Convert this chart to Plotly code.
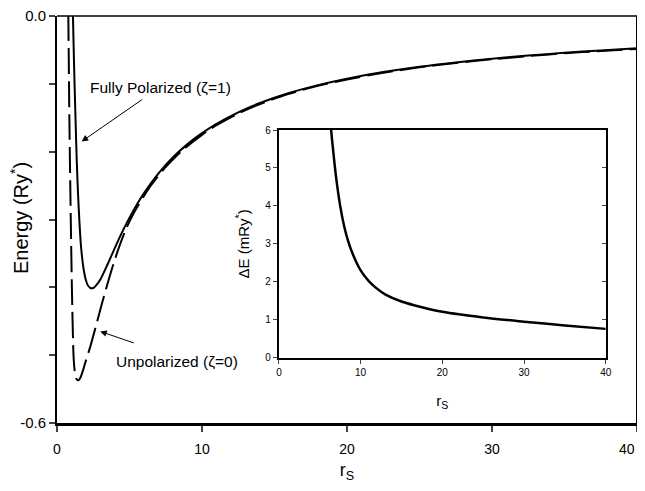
import plotly.graph_objects as go

# ---- data ----
rs_pol = [1.06, 1.10, 1.18, 1.27, 1.36, 1.45, 1.55, 1.65, 1.80, 1.95, 2.10, 2.30, 2.50, 2.70,
          3.0, 3.5, 4.0, 4.5, 5.0, 5.5, 6.0, 7.0, 8.0, 9.0, 10.0, 11.0, 12.5, 14.0, 16.0, 18.0,
          20.0, 22.5, 25.0, 27.5, 30.0, 32.5, 35.0, 37.5, 40.0]
E_pol = [0.04, 0.0, -0.075, -0.146, -0.212, -0.262, -0.305, -0.338, -0.368, -0.386, -0.396, -0.401,
         -0.401, -0.397, -0.388, -0.3656, -0.3414, -0.3183, -0.2972, -0.2781, -0.2611, -0.2319,
         -0.2083, -0.1889, -0.1727, -0.159, -0.142, -0.1283, -0.1136, -0.1019, -0.0924, -0.0827,
         -0.0748, -0.0684, -0.0629, -0.0583, -0.0542, -0.0508, -0.0477]

rs_unpol = [0.74, 0.78, 0.85, 0.92, 1.03, 1.15, 1.25, 1.37, 1.49, 1.62, 1.80, 1.95, 2.30, 2.75,
            3.10, 3.44, 3.90, 4.36, 4.80, 5.28, 6.40, 7.44, 8.70, 10.0, 11.0, 12.5, 14.0, 16.0,
            18.0, 20.0, 22.5, 25.0, 27.5, 30.0, 32.5, 35.0, 37.5, 40.0]
E_unpol = [0.05, 0.0, -0.146, -0.257, -0.404, -0.505, -0.528, -0.536, -0.537, -0.533, -0.522,
           -0.511, -0.487, -0.452, -0.424, -0.398, -0.365, -0.336, -0.312, -0.291, -0.252, -0.224,
           -0.197, -0.1752, -0.161, -0.1437, -0.1298, -0.1148, -0.1030, -0.0935, -0.0837, -0.0757,
           -0.0693, -0.0638, -0.0591, -0.0550, -0.0516, -0.0485]

rs_inset = [6.3, 6.5, 7.0, 7.5, 8.0, 8.5, 9.0, 10.0, 11.0, 12.0, 13.0, 15.0, 17.5, 20.0, 25.0,
            30.0, 35.0, 40.0]
dE_inset = [6.2, 5.75, 4.75, 4.0, 3.45, 3.05, 2.75, 2.3, 2.02, 1.82, 1.67, 1.48, 1.33, 1.21,
            1.06, 0.95, 0.85, 0.76]

main_yticks = [-0.6, -0.5, -0.4, -0.3, -0.2, -0.1, 0.0]
main_ytext = ["-0.6", "", "", "", "", "", "0.0"]
main_xticks = [0, 10, 20, 30, 40]
main_xtext = ["0", "10", "20", "30", ""]   # last label drawn as annotation so it is not clipped
last_xlabel = "40"
inset_xticks = [0, 10, 20, 30, 40]
inset_yticks = [0, 1, 2, 3, 4, 5, 6]

FONT = "Arial, Liberation Sans, sans-serif"

fig = go.Figure()
fig.add_trace(go.Scatter(x=rs_pol, y=E_pol, mode="lines",
                         line=dict(color="black", width=2, shape="spline", smoothing=0.7),
                         xaxis="x", yaxis="y", showlegend=False))
fig.add_trace(go.Scatter(x=rs_unpol, y=E_unpol, mode="lines",
                         line=dict(color="black", width=2, dash="26px,7px", shape="spline", smoothing=0.7),
                         xaxis="x", yaxis="y", showlegend=False))
fig.add_trace(go.Scatter(x=rs_inset, y=dE_inset, mode="lines",
                         line=dict(color="black", width=2.5, shape="spline", smoothing=0.8),
                         xaxis="x2", yaxis="y2", showlegend=False))
# invisible trace to activate the right-side inset axis
fig.add_trace(go.Scatter(x=[0], y=[0], mode="markers", marker=dict(opacity=0),
                         xaxis="x2", yaxis="y3", showlegend=False, hoverinfo="skip"))

# the page body has an 8px margin, so the figure is sized to fit the 645x491 window
fig.update_layout(
    width=629, height=475,
    margin=dict(l=49, r=0, t=8, b=60),
    plot_bgcolor="white", paper_bgcolor="white",
    font=dict(family=FONT, color="black"),
    xaxis=dict(domain=[0, 1], range=[0, 40], tickvals=main_xticks, ticktext=main_xtext,
               ticks="outside", ticklen=6,
               tickwidth=1.5, linecolor="black", linewidth=2.5, showline=True, showgrid=False,
               zeroline=False, tickfont=dict(size=14), anchor="y", automargin=False,
               ticklabeloverflow="allow", ticklabelstandoff=5,
               title=dict(text="r<sub>S</sub>", font=dict(size=18), standoff=13)),
    yaxis=dict(domain=[0, 1], range=[-0.6, 0], tickvals=main_yticks, ticktext=main_ytext,
               ticks="outside", ticklen=6, tickwidth=1.5, linecolor="black", linewidth=2,
               showline=True, showgrid=False, zeroline=False, tickfont=dict(size=15), anchor="x",
               automargin=False, ticklabeloverflow="allow"),
    xaxis2=dict(domain=[0.3826, 0.9461], range=[0, 40], tickvals=inset_xticks, ticks="outside",
                ticklen=4, tickwidth=1, linecolor="black", linewidth=2, showline=True,
                mirror=True, showgrid=False, zeroline=False, tickfont=dict(size=10), anchor="y2",
                automargin=False,
                title=dict(text="r<sub>S</sub>", font=dict(size=15), standoff=19)),
    yaxis2=dict(domain=[0.1604, 0.7199], range=[0, 6], tickvals=inset_yticks, ticks="outside",
                ticklen=4, tickwidth=1, linecolor="black", linewidth=2, showline=True,
                showgrid=False, zeroline=False, tickfont=dict(size=10), anchor="x2",
                automargin=False,
                title=dict(text="ΔE (mRy<sup>*</sup>)", font=dict(size=15), standoff=12)),
    yaxis3=dict(domain=[0.1604, 0.7199], range=[0, 6], tickvals=inset_yticks, ticks="inside",
                ticklen=4, tickwidth=1, linecolor="black", linewidth=2, showline=True,
                showticklabels=False, showgrid=False, zeroline=False, overlaying="y2",
                side="right", anchor="x2", automargin=False),
    shapes=[
        dict(type="line", xref="paper", yref="paper", x0=0, x1=1, y0=1, y1=1,
             line=dict(color="black", width=1.5)),
        dict(type="line", xref="paper", yref="paper", x0=1, x1=1, y0=0, y1=1,
             line=dict(color="black", width=2)),
    ],
    annotations=[
        dict(text=last_xlabel, x=1, y=0, xref="paper", yref="paper", xanchor="right",
             yanchor="top", yshift=-16, showarrow=False, font=dict(size=14)),
        dict(text="Energy (Ry<sup>*</sup>)", textangle=-90, x=-0.0637, y=0.5037,
             xref="paper", yref="paper", xanchor="center", yanchor="middle",
             showarrow=False, font=dict(size=20)),
        dict(text="Fully Polarized (ζ=1)", x=2.13, y=-0.106, xref="x", yref="y", xanchor="left",
             yanchor="middle", showarrow=False, font=dict(size=15.5)),
        dict(text="", x=1.70, y=-0.185, xref="x", yref="y", ax=62, ay=-43, showarrow=True,
             arrowhead=2, arrowsize=1.3, arrowwidth=1, arrowcolor="black"),
        dict(text="Unpolarized (ζ=0)", x=3.91, y=-0.509, xref="x", yref="y", xanchor="left",
             yanchor="middle", showarrow=False, font=dict(size=15.5)),
        dict(text="", x=2.98, y=-0.465, xref="x", yref="y", ax=35, ay=12, showarrow=True,
             arrowhead=2, arrowsize=1.3, arrowwidth=1, arrowcolor="black"),
    ],
)

fig.write_html("out.html")
